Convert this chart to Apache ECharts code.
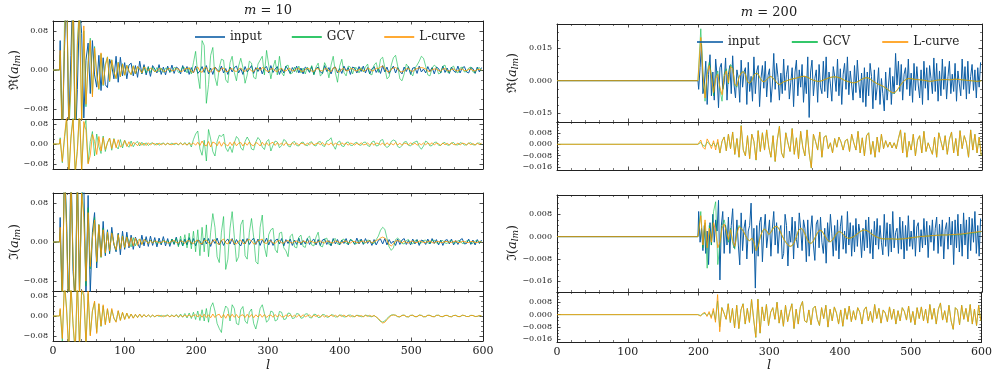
<!DOCTYPE html>
<html><head><meta charset="utf-8">
<script src="https://cdn.jsdelivr.net/npm/echarts@6.0.0/dist/echarts.min.js"></script>
<style>html,body{margin:0;padding:0;background:#fff}#c{width:995px;height:373px}</style>
</head><body><div id="c"></div>
<script>
// ---------------- DATA (left column: m = 10, units 1e-3; l = 10..598 step 3) ----------------
const reInL = [
60,-140,40,170,-120,30,190,-160,-40,130,
75,-98,20,55,-48,60,-10,-35,30,-42,
25,-30,-36,22,8,-18,28,-25,26,-12,
15,-18,10,14,-12,9,-15,18,-8,11,
-10,7,-13,9,2,-6,11,-9,6,-10,
8,-5,10,-7,6,3,-8,9,-4,7,
-9,5,-6,8,-7,-2,7,-5,9,-8,
4,-9,6,1,-4,8,-6,3,-9,6,
-4,5,8,-6,3,-9,7,-4,2,9,
-7,5,-3,6,-8,4,7,-6,9,-5,
2,7,-9,3,-6,8,1,-7,5,-3,
8,-6,4,-8,6,2,-5,7,-9,3,
6,-4,-7,9,-3,5,-8,4,6,-6,
3,-7,8,-2,5,-9,6,4,-6,7,
-3,8,-6,5,-8,2,7,-5,3,-7,
9,-4,6,-7,1,8,-6,5,-3,-8,
6,-3,7,-9,4,5,-7,8,-4,2,
-6,7,-3,5,-8,6,3,-6,8,-5,
4,-7,6,-2,-5,8,-6,4,7,-4,
-6,5,3,-7,6,-4,5];
const reGcvL = [
30,-160,90,190,-130,-40,150,-170,60,130,
-100,80,-75,20,65,-50,48,-10,-40,33,
-32,12,27,-24,21,-5,-18,16,-14,13,
-11,10,-3,-10,9,-8,7,2,-7,7,
-6,6,-5,6,-4,5,-4,4,-5,4,
3,-4,-2,5,3,-5,-3,6,4,-6,
5,-8,15,38,-10,-38,60,50,-68,-30,
30,46,-15,-32,5,22,20,-20,-26,15,
28,-5,-22,8,24,5,-27,-10,18,14,
-15,-18,12,20,28,-10,40,10,-18,5,
20,-10,28,-5,-12,8,10,-8,-6,6,
-5,8,-6,4,-8,6,-4,9,-10,6,
14,-12,-8,15,5,-16,10,28,-5,-25,
8,22,-5,-12,8,6,-8,5,4,-6,
5,-4,6,12,-8,-10,10,15,-5,22,
26,5,-18,-14,10,25,30,8,-18,-22,
-8,12,6,-6,-12,4,10,18,28,24,
8,-10,-12,4,10,6,-8,-6,8,10,
-4,-6,5,8,-3,-6,4,6,-4,-3,
4,6,-4,-5,3,5,-2];
const reLcL = [
40,-150,60,180,-110,-30,160,-130,50,120,
-110,90,-70,10,60,-55,45,-8,-38,35,
-30,8,26,-22,20,-3,-17,15,-13,12,
-10,9,-2,-9,8,-7,7,1,-6,6,
3,-2,4,1,-3,-2,3,2,-2,-3,
2,3,-2,-1,3,2,-3,-2,2,3,
4,-3,-5,3,6,-2,-5,4,5,-3,
-4,3,5,-2,-4,3,4,-3,-3,2,
3,-2,-3,2,4,-1,-3,2,3,-2,
-3,2,4,-1,5,3,-2,-3,2,3,
-2,-3,2,3,-1,-2,2,3,-2,-1,
2,3,-2,-3,1,3,2,-2,-3,2,
3,-1,-2,2,3,-2,-3,4,5,-3,
-4,2,3,-2,-1,2,3,-1,-2,1,
2,-2,-1,3,2,-2,-1,4,3,6,
8,4,-3,-4,2,4,5,2,-3,-4,
-2,2,3,-1,-3,1,3,4,5,4,
2,-2,-3,1,2,2,-1,-2,2,3,
-1,-2,1,2,-1,-2,1,2,-1,-1,
1,2,-1,-2,1,1,0];
const reSubGcvL = [
25,-75,20,100,-140,30,110,-115,-20,130,
-105,60,95,-75,10,50,-48,40,-10,-38,
32,-30,6,24,-25,22,-8,-20,18,-16,
15,-3,-13,12,-11,4,10,-8,7,-6,
5,-6,2,5,-5,4,-5,1,4,-3,
3,-2,4,-3,2,-4,5,-3,6,-5,
6,-12,18,40,52,-20,-45,15,-68,58,
20,-30,-48,10,35,30,40,-15,-30,-10,
-34,5,30,20,-15,-25,10,28,12,-20,
-24,8,26,15,-12,-22,10,18,-28,-5,
12,8,-15,-6,18,12,-8,-12,6,10,
-6,-8,5,8,-4,-7,6,9,-5,-8,
8,10,-6,-10,12,15,25,-5,-21,6,
12,-8,-10,6,8,-5,-6,4,7,-4,
-5,6,8,-6,-10,8,12,-8,-6,14,
18,-6,-14,-8,10,16,12,-10,-15,-6,
8,10,-5,-8,4,8,12,-10,-21,-8,
12,6,-8,-6,6,8,-5,-6,4,6,
-4,-5,4,6,-3,-4,5,3,-4,-3,
3,5,-3,-4,3,4,-2];
const reSubLcL = [
20,-70,30,110,-130,20,100,-120,-30,140,
-110,90,55,-80,-45,38,10,-42,30,-28,
26,-22,4,24,-18,20,-15,17,-12,-5,
14,-10,9,-9,6,2,-7,6,-5,4,
-6,5,-4,3,1,-4,4,-3,2,-3,
3,-2,-3,2,3,-2,4,-3,2,-4,
3,-2,4,-5,7,-6,12,-3,-8,10,
-12,8,4,-7,10,-9,6,-2,-8,7,
-6,9,-7,3,6,-8,5,-5,8,-4,
-7,6,2,-8,7,-5,5,-6,3,7,
-6,5,-3,4,-6,6,-2,-4,5,-3,
4,-5,3,2,-5,4,-3,5,-4,1,
4,-3,6,-5,2,-4,5,-6,4,-2,
-4,5,-2,3,-5,4,1,-4,3,-3,
5,-3,-2,4,-4,3,-5,4,2,-3,
4,-6,5,-3,2,-4,6,-4,3,-5,
3,2,-4,5,-3,4,-5,2,-3,4,
-3,4,-2,5,-4,3,1,-5,4,-3,
3,-4,5,-2,-3,4,-4,3,2,-4,
4,-3,2,-4,3,-2,3];
const imInL = [
50,-130,160,40,-150,170,-60,-120,140,-100,
90,120,-110,95,-105,20,60,-53,35,-30,
42,-28,25,-24,30,-5,-20,18,-26,22,
-15,20,-12,14,-15,10,-2,-12,14,-8,
11,-9,12,-7,9,-10,8,-6,11,-8,
7,-9,6,-5,10,-7,5,-8,6,-6,
9,-5,7,-8,4,2,-6,8,-4,7,
-9,5,-3,8,-6,4,-7,2,6,-4,
7,-6,5,-3,-8,6,-4,7,-5,3,
8,-5,6,-7,4,-2,8,-6,5,-7,
3,6,-4,7,-8,5,-3,6,-7,4,
-5,8,-6,3,-4,7,-5,2,6,-6,
5,-7,4,6,-5,3,-8,7,-4,5,
-6,4,-3,7,-6,5,2,-5,8,-4,
6,-5,7,-3,4,-7,5,-6,3,6,
-4,7,-6,5,-3,2,-7,6,-5,4,
7,-5,3,-6,6,-4,5,-7,4,2,
-5,6,-4,7,-3,5,-6,4,-7,3,
5,-4,6,-6,3,-5,4,7,-4,-3,
6,-5,4,-6,5,-3,4];
const imGcvL = [
20,-140,170,30,-160,150,-40,-140,160,-120,
110,60,-90,70,-55,10,50,-42,36,-32,
28,-24,22,-20,19,-4,-17,16,-14,13,
-12,11,2,-10,9,-8,3,6,-5,5,
3,-3,4,-2,3,-4,2,-3,4,-2,
3,-5,6,-4,8,-10,12,-8,15,-12,
18,-14,22,-20,25,-28,30,-20,35,-30,
20,58,30,-30,-42,20,52,-56,-35,28,
62,10,-40,-30,35,45,-28,-35,20,48,
10,-40,-45,30,55,-10,-30,15,25,28,
-15,-22,18,20,-12,-18,-30,12,16,-10,
-12,10,14,-9,-11,8,12,-6,-8,10,
20,-8,-10,6,8,-5,-6,5,7,-4,
-5,4,6,-3,-4,5,3,-4,-3,4,
3,-3,-2,4,3,-2,-3,5,12,24,
30,26,8,-10,-17,-12,5,8,4,-3,
-4,3,5,-2,-4,3,4,-3,-2,3,
4,-2,-3,3,4,-2,-3,2,3,-2,
-3,2,3,-2,-2,3,2,-3,-2,2,
3,-2,-3,2,3,-2,1];
const imLcL = [
30,-120,150,20,-170,130,-30,-160,140,-110,
100,50,-80,60,-50,8,45,-40,35,-30,
25,-22,20,-18,18,-4,-16,15,-14,12,
-11,10,-9,9,-8,8,-7,6,-5,5,
2,-3,3,-2,2,1,-2,-1,2,1,
-2,-1,2,3,-1,-2,2,1,-3,2,
3,-2,-3,2,4,-3,-4,3,4,-2,
-4,2,5,-3,-5,3,6,-2,-4,4,
5,-3,-4,2,4,-3,-3,4,5,2,
-4,-3,3,4,6,-2,-3,3,2,-2,
-3,2,3,-2,-2,2,3,-1,-2,1,
2,-1,-2,2,1,-2,2,1,-1,-2,
1,2,-1,-2,2,1,-1,-2,2,1,
-1,-2,1,2,-1,-2,1,1,-1,-2,
1,2,-1,1,2,-2,1,3,5,8,
10,8,3,-5,-8,-4,2,3,1,-2,
2,-1,-2,1,2,-1,-1,2,1,-1,
-1,1,2,-1,-2,1,1,-1,-1,1,
1,-1,-1,1,2,-1,-1,1,1,-1,
-1,1,1,-1,-1,1,0];
const imSubGcvL = [
25,-100,140,30,-140,130,-40,-150,140,-120,
100,80,-110,90,-75,20,55,-65,48,-42,
40,-33,28,-26,25,-8,-22,20,-17,14,
-13,11,-9,8,-8,6,-6,7,-5,5,
-4,4,-4,3,-3,3,-2,3,-3,2,
4,-3,5,-4,6,-6,8,-5,10,-8,
12,-10,15,-14,20,-18,25,-20,30,-25,
35,53,20,-30,-50,-66,10,40,30,-20,
45,30,-30,-35,25,38,-20,-30,15,28,
-30,-52,-15,30,45,10,-25,-15,20,15,
-20,-15,18,15,-14,-12,12,10,-10,-8,
10,8,-9,-7,8,9,-6,-8,7,6,
-6,-5,6,5,-5,-4,5,4,-4,-3,
4,3,-4,-3,3,4,-3,-2,3,2,
-3,-2,3,2,-2,-3,2,-4,-12,-22,
-24,-20,-10,-2,4,5,3,-3,-4,3,
4,-3,-4,3,3,-3,-3,4,3,-3,
-3,3,3,-2,-3,3,3,-2,-3,2,
3,-2,-3,2,3,-2,-3,3,2,-2,
-2,3,2,-2,-2,2,0];
const imSubLcL = [
30,-90,130,20,-150,120,-30,-140,150,-130,
110,90,-120,100,-80,20,60,-70,50,-40,
45,-35,30,-28,30,-10,-25,22,-18,15,
-14,12,-10,8,-9,7,-6,8,-5,6,
-4,5,-3,4,-3,2,3,-3,2,-2,
3,-3,2,-2,3,-2,2,-3,3,-2,
4,-3,2,5,-4,6,-5,7,-6,5,
-7,8,-6,4,7,-8,6,-9,8,-6,
7,-5,6,-7,2,5,-6,7,-5,6,
-7,5,-4,7,-5,6,-6,2,4,-5,
6,-4,5,-3,-4,5,-2,4,-3,3,
-4,4,-3,5,-3,1,4,-4,3,-2,
4,-3,3,-4,2,-3,4,-2,3,-3,
3,-2,4,-3,2,-3,2,-3,3,-2,
2,-3,3,-2,3,-2,2,-4,-10,-20,
-28,-25,-15,-5,2,4,3,-2,-3,2,
3,-2,-3,2,3,-2,-2,3,2,-3,
-2,3,2,-2,-3,2,3,-2,-2,2,
2,-2,-3,2,2,-2,-2,3,2,-2,
-2,2,2,-2,-1,2,0];

// ---------------- DATA (right column: m = 200, units 1e-4) ----------------
// input: l = 200..598 step 2 ; reconstructions: l = 200..599 step 3
const reInR = [
-40,60,170,-60,-20,90,-110,30,120,-70,
40,-90,100,20,-125,60,80,-40,-10,105,
-90,30,70,-60,115,-20,-80,50,10,-100,
95,-30,40,60,-110,85,-50,20,-95,110,
-60,45,70,-120,10,70,-35,90,-75,25,
55,-100,-20,126,-40,80,15,-90,35,-60,
100,-45,30,70,-85,-10,60,-120,40,95,
-70,50,-30,75,-100,20,-60,110,-170,40,
95,-70,10,50,-100,75,-30,-60,90,-50,
110,-80,40,-15,-95,65,20,-50,100,-70,
55,-110,30,80,-40,110,-65,45,-20,-90,
70,-55,95,-10,-80,35,-100,60,-120,40,
-70,80,20,-130,50,-90,-30,60,-110,10,
-60,-140,40,-90,-20,60,-110,20,-60,126,
-20,90,-50,75,-90,30,60,-40,100,-70,
35,-100,80,-45,65,-20,-80,50,-110,90,
-35,60,-90,70,10,-60,105,-50,80,-95,
45,-70,100,-40,65,-85,20,90,-60,30,
-50,80,-95,45,-15,-70,100,-40,65,-85,
90,-60,20,75,-45,50,-80,60,-30,85];
const reGcvR = [
0,240,45,-95,40,85,30,-70,20,45,
-40,-95,30,55,-15,75,60,-20,-30,18,
36,43,30,-6,-12,1,25,36,30,10,
-3,-5,6,15,20,12,0,-12,-19,-12,
-5,-2,2,5,8,10,12,15,18,20,
20,17,12,6,2,-1,-3,-3,0,4,
8,12,15,17,18,17,14,10,5,0,
-3,-6,-9,-10,-8,-4,2,8,12,14,
12,6,-2,-8,-14,-18,-23,-28,-35,-42,
-50,-57,-58,-50,-36,-20,-8,2,8,10,
9,7,6,5,4,3,2,0,-2,-3,
-2,0,2,3,4,5,5,5,4,5,
6,7,6,5,4,3,2,1,0,-1,
-2,-3,-2,-1];
const reLcR = [
0,200,30,-80,30,70,20,-55,10,30,
-30,-65,20,45,-10,65,55,-15,-25,15,
35,42,30,-5,-12,0,25,35,30,10,
-3,-5,5,15,20,12,0,-12,-18,-12,
-5,-2,2,5,8,10,12,15,18,20,
20,17,12,6,2,-1,-3,-3,0,4,
8,12,15,17,18,17,14,10,5,0,
-3,-6,-9,-10,-8,-4,2,8,12,14,
12,6,-2,-8,-14,-18,-22,-27,-33,-40,
-48,-55,-56,-48,-35,-20,-8,2,8,10,
9,7,6,5,4,3,2,0,-2,-3,
-2,0,2,3,4,5,5,5,4,5,
6,7,6,5,4,3,2,1,0,-1,
-2,-3,-2,-1];
const reSubGcvR = [
2,12,-8,-14,16,4,-12,10,-16,14,
-62,22,52,-46,72,-31,87,-72,41,-92,
133,-41,-82,61,-102,72,21,-112,97,-51,
82,-41,102,-21,-92,61,-122,31,128,-61,
-97,82,11,-51,112,-71,46,-102,92,-21,
-82,102,-61,-168,71,21,-41,87,-92,51,
61,-31,11,-61,41,-21,51,16,-41,26,
36,-51,71,11,-41,92,-61,46,-82,61,
82,-71,21,-92,51,-56,71,-31,26,-21,
16,-26,11,-31,41,102,-61,82,-92,21,
-41,71,-82,31,61,-61,92,-51,11,-31,
-71,51,-92,82,21,-41,61,-71,36,87,
-61,41,-82,97,-31,61,11,-92,102,-41,
71,-61,51,-82];
const reSubLcR = [
5,30,-20,-35,38,10,-30,25,-40,35,
-60,20,50,-45,70,-30,85,-70,40,-90,
130,-40,-80,60,-100,70,20,-110,95,-50,
80,-40,100,-20,-90,60,-120,30,125,-60,
-95,80,10,-50,110,-70,45,-100,90,-20,
-80,100,-60,-165,70,20,-40,85,-90,50,
60,-30,10,-60,40,-20,50,15,-40,25,
35,-50,70,10,-40,90,-60,45,-80,60,
80,-70,20,-90,50,-55,70,-30,25,-20,
15,-25,10,-30,40,100,-60,80,-90,20,
-40,70,-80,30,60,-60,90,-50,10,-30,
-70,50,-90,80,20,-40,60,-70,35,85,
-60,40,-80,95,-30,60,10,-90,100,-40,
70,-60,50,-80];
const imInR = [
90,-20,30,-50,40,-60,20,-100,50,-30,
80,-20,60,20,130,-155,40,90,-60,40,
-30,70,-60,40,100,-40,-20,60,-30,-101,
85,-50,30,60,-80,20,40,120,-60,30,
-184,40,-70,50,70,-90,20,80,-40,10,
60,-70,30,90,-30,50,-60,20,40,-80,
-60,80,40,-105,20,-20,70,-80,55,-10,
-40,85,30,-50,60,30,-90,60,-70,20,
75,-30,-85,45,60,-40,70,-20,-60,30,
-95,50,-20,80,10,-70,40,-50,60,-80,
35,75,-45,20,-60,90,-30,50,-70,40,
-55,65,-35,45,10,-75,30,-50,60,-40,
70,-60,25,-80,55,-30,65,-45,40,-20,
-65,80,-35,50,-70,45,-55,90,-40,15,
30,-60,70,-45,55,-80,40,-50,75,-35,
20,-45,60,-70,35,50,-55,25,-40,65,
-30,55,-75,40,-20,60,-50,30,70,-60,
45,-35,60,-80,25,50,-45,70,-30,55,
-100,60,-40,80,-55,45,-70,85,-30,60,
-80,70,-50,65,-20,90,-60,40,-70,65];
const imGcvR = [
0,90,-40,50,-113,40,-30,90,125,-100,
-30,40,60,25,-20,30,-25,-45,15,40,
30,20,5,-10,-15,-5,-20,-50,-35,0,
20,28,20,8,15,30,36,36,25,8,
-8,-20,-30,-35,-32,-20,0,22,30,25,
10,-8,-22,-24,-15,0,15,24,20,8,
-5,-15,-18,-12,0,12,18,16,8,0,
-5,-6,-3,0,6,12,18,22,24,22,
18,12,6,2,-2,-5,-7,-8,-8,-8,
-8,-8,-8,-9,-9,-8,-8,-7,-6,-5,
-4,-3,-2,-1,0,1,1,2,2,3,
4,4,5,5,6,6,6,6,7,7,
6,6,7,7,8,9,10,11,12,13,
14,15,16,17];
const imLcR = [
0,75,-30,60,-40,30,-20,50,20,-40,
-20,30,45,20,-10,25,-15,-35,10,35,
30,20,5,-10,-15,-5,-20,-50,-35,0,
20,28,20,8,15,30,36,36,25,8,
-8,-20,-30,-35,-32,-20,0,22,30,25,
10,-8,-22,-24,-15,0,15,24,20,8,
-5,-15,-18,-12,0,12,18,16,8,0,
-5,-6,-3,0,6,12,18,22,24,22,
18,12,6,2,-2,-5,-7,-8,-8,-8,
-8,-8,-8,-9,-9,-8,-8,-7,-6,-5,
-4,-3,-2,-1,0,1,1,2,2,3,
4,4,5,5,6,6,6,6,7,7,
8,8,9,9,10,11,12,13,14,15,
16,17,18,19];
const imSubGcvR = [
2,-5,4,8,-6,10,-15,25,-35,90,
-80,47,11,-31,72,-52,41,-87,62,-92,
31,72,-62,41,-51,100,-31,-150,102,-122,
51,-41,67,-72,16,46,-31,82,-56,31,
-77,62,-46,21,72,-92,36,-62,51,87,
-41,-51,31,-67,41,56,-31,-72,46,-26,
62,-82,36,-41,51,11,-62,31,-77,41,
-31,56,-46,26,-36,46,16,-62,31,51,
-41,21,-51,67,-26,41,-56,31,11,-46,
51,-31,36,-62,26,-41,46,21,-36,56,
-51,21,-67,46,-26,51,-41,36,-56,67,
-31,41,-62,36,77,-36,26,-51,62,-41,
-97,46,31,-67,62,-31,41,-46,67,-62,
36,-72,62,-41];
const imSubLcR = [
5,-10,8,15,-12,20,-25,40,-50,131,
-112,45,10,-30,70,-50,40,-85,60,-90,
30,70,-60,40,-50,98,-30,-147,100,-120,
50,-40,65,-70,15,45,-30,80,-55,30,
-75,60,-45,20,70,-90,35,-60,50,85,
-40,-50,30,-65,40,55,-30,-70,45,-25,
60,-80,35,-40,50,10,-60,30,-75,40,
-30,55,-45,25,-35,45,15,-60,30,50,
-40,20,-50,65,-25,40,-55,30,10,-45,
50,-30,35,-60,25,-40,45,20,-35,55,
-50,20,-65,45,-25,50,-40,35,-55,65,
-30,40,-60,35,75,-35,25,-50,60,-40,
-95,45,30,-65,60,-30,40,-45,65,-60,
35,-70,60,-40];

// ---------------- sample positions / ticks ----------------
const M_LEFT = 10, M_RIGHT = 200;
const lLeft = []; for (let l = 10; l <= 598; l += 3) lLeft.push(l);
const lRight = []; for (let l = 200; l <= 599; l += 3) lRight.push(l);
const lRightIn = []; for (let l = 200; l <= 598; l += 2) lRightIn.push(l);
const UNIT_LEFT = 1e-3, UNIT_RIGHT = 1e-4;
const legendNames = ['input', 'GCV', 'L-curve'];
const ticksLeft = [-0.08, 0, 0.08];
const ticksRightTop = [-0.015, 0, 0.015];
const ticksRightSmall = [-0.016, -0.008, 0, 0.008];

function toData(ls, vals, unit, m, name) {
  if (vals.length !== ls.length) throw new Error(name + ': ' + vals.length + ' vs ' + ls.length);
  const d = [[0, 0], [m - 1, 0]];
  for (let i = 0; i < ls.length; i++) d.push([ls[i], vals[i] * unit]);
  return d;
}

const INK = '#222';
const FONT = 'DejaVu Serif';
const styles = {
  'input':   {color: '#0C5DA5', width: 1.0, opacity: 1},
  'GCV':     {color: '#00B945', width: 0.9, opacity: 0.65},
  'L-curve': {color: '#FF9500', width: 0.9, opacity: 0.9}
};

const panels = [
  {grid: {left: 53, top: 21, width: 430, height: 98}, min: -0.1, max: 0.1, major: ticksLeft, minor: 0.02, dec: 2, xLab: false, col: 'L',
   s: [['input', reInL, lLeft], ['GCV', reGcvL, lLeft], ['L-curve', reLcL, lLeft]]},
  {grid: {left: 53, top: 119, width: 430, height: 50}, min: -0.1, max: 0.1, major: ticksLeft, minor: 0.02, dec: 2, xLab: false, col: 'L',
   s: [['GCV', reSubGcvL, lLeft], ['L-curve', reSubLcL, lLeft]]},
  {grid: {left: 53, top: 193, width: 430, height: 98}, min: -0.1, max: 0.1, major: ticksLeft, minor: 0.02, dec: 2, xLab: false, col: 'L',
   s: [['input', imInL, lLeft], ['GCV', imGcvL, lLeft], ['L-curve', imLcL, lLeft]]},
  {grid: {left: 53, top: 291, width: 430, height: 50}, min: -0.1, max: 0.1, major: ticksLeft, minor: 0.02, dec: 2, xLab: true, col: 'L',
   s: [['GCV', imSubGcvL, lLeft], ['L-curve', imSubLcL, lLeft]]},
  {grid: {left: 557, top: 24, width: 425, height: 98}, min: -0.0191, max: 0.0262, major: ticksRightTop, minor: 0.00375, dec: 3, xLab: false, col: 'R',
   s: [['input', reInR, lRightIn], ['GCV', reGcvR, lRight], ['L-curve', reLcR, lRight]]},
  {grid: {left: 557, top: 122, width: 425, height: 48}, min: -0.0181, max: 0.0157, major: ticksRightSmall, minor: 0.002, dec: 3, xLab: false, col: 'R',
   s: [['GCV', reSubGcvR, lRight], ['L-curve', reSubLcR, lRight]]},
  {grid: {left: 557, top: 195, width: 425, height: 97}, min: -0.0198, max: 0.0149, major: ticksRightSmall, minor: 0.002, dec: 3, xLab: false, col: 'R',
   s: [['input', imInR, lRightIn], ['GCV', imGcvR, lRight], ['L-curve', imLcR, lRight]]},
  {grid: {left: 557, top: 292, width: 425, height: 50}, min: -0.0179, max: 0.0148, major: ticksRightSmall, minor: 0.002, dec: 3, xLab: true, col: 'R',
   s: [['GCV', imSubGcvR, lRight], ['L-curve', imSubLcR, lRight]]}
];

function fmt(v, dec) {
  const s = Math.abs(v).toFixed(dec);
  return (v < -1e-12 ? '\u2212' : '') + s;
}
function minorList(p) {
  const out = [];
  const k0 = Math.ceil(p.min / p.minor - 1e-9), k1 = Math.floor(p.max / p.minor + 1e-9);
  for (let k = k0; k <= k1; k++) {
    const v = +(k * p.minor).toFixed(8);
    if (!p.major.some(m => Math.abs(m - v) < 1e-9)) out.push(v);
  }
  return out;
}

const grids = [], xAxes = [], yAxes = [], series = [];
panels.forEach((p, gi) => {
  grids.push(Object.assign({containLabel: false}, p.grid));
  const xi = xAxes.length;
  ['bottom', 'top'].forEach((pos, k) => {
    xAxes.push({
      type: 'value', gridIndex: gi, position: pos, min: 0, max: 600, interval: 100,
      axisLine: {show: true, onZero: false, lineStyle: {color: INK, width: 1}},
      axisTick: {show: true, inside: true, length: 3.5, lineStyle: {color: INK, width: 0.8}},
      minorTick: {show: true, splitNumber: 5, length: 2, lineStyle: {color: INK, width: 0.6}},
      axisLabel: {show: p.xLab && k === 0, margin: 5, fontSize: 11, fontFamily: FONT, color: INK},
      splitLine: {show: false}, minorSplitLine: {show: false}
    });
  });
  const yi = yAxes.length;
  const minors = minorList(p);
  ['left', 'right'].forEach((pos, k) => {
    yAxes.push({
      type: 'value', gridIndex: gi, position: pos, min: p.min, max: p.max,
      axisLine: {show: true, onZero: false, lineStyle: {color: INK, width: 1}},
      axisTick: {show: true, inside: true, length: 3.5, customValues: p.major, lineStyle: {color: INK, width: 0.8}},
      axisLabel: {show: k === 0, customValues: p.major, formatter: v => fmt(v, p.dec), margin: 5,
                  fontSize: 8, fontFamily: FONT, color: INK},
      splitLine: {show: false}
    });
  });
  ['left', 'right'].forEach(pos => {
    yAxes.push({
      type: 'value', gridIndex: gi, position: pos, min: p.min, max: p.max,
      axisLine: {show: false, onZero: false},
      axisTick: {show: true, inside: true, length: 2, customValues: minors, lineStyle: {color: INK, width: 0.6}},
      axisLabel: {show: false}, splitLine: {show: false}
    });
  });
  const unit = p.col === 'L' ? UNIT_LEFT : UNIT_RIGHT;
  const m = p.col === 'L' ? M_LEFT : M_RIGHT;
  p.s.forEach(([name, vals, ls]) => {
    const st = styles[name];
    series.push({
      type: 'line', name, xAxisIndex: xi, yAxisIndex: yi,
      data: toData(ls, vals, unit, m, name + gi),
      symbol: 'none', showSymbol: false, clip: true, silent: true,
      color: st.color,
      lineStyle: {color: st.color, width: st.width, opacity: st.opacity},
      emphasis: {disabled: true}
    });
  });
});

const legendBase = {
  data: legendNames, icon: 'rect', itemHeight: 1.6, padding: 0, selectedMode: false,
  textStyle: {fontFamily: FONT, fontSize: 12, color: INK}
};

function yLabel(sym, x, y) {
  return {
    type: 'text', x, y, rotation: Math.PI / 2, silent: true,
    style: {
      text: '{r|' + sym + '}{p|(}{a|a}{s|lm}{p|)}',
      align: 'center', verticalAlign: 'middle', fill: INK,
      rich: {
        r: {fontSize: 13, fontFamily: 'DejaVu Serif', fill: INK},
        p: {fontSize: 13, fontFamily: FONT, fill: INK},
        a: {fontSize: 13, fontFamily: FONT, fontStyle: 'italic', fill: INK},
        s: {fontSize: 9, fontFamily: FONT, fontStyle: 'italic', fill: INK, padding: [6, 0, 0, 0]}
      }
    }
  };
}
function title(txt, x, y) {
  return {
    type: 'text', x, y, silent: true,
    style: {
      text: '{i|m}{n| = ' + txt + '}', align: 'center', verticalAlign: 'middle', fill: INK,
      rich: {
        i: {fontSize: 13, fontFamily: FONT, fontStyle: 'italic', fill: INK},
        n: {fontSize: 13, fontFamily: FONT, fill: INK}
      }
    }
  };
}
function xName(x, y) {
  return {type: 'text', x, y, silent: true,
    style: {text: 'l', fontSize: 13, fontFamily: FONT, fontStyle: 'italic', fill: INK, align: 'center', verticalAlign: 'middle'}};
}

const chart = echarts.init(document.getElementById('c'), null, {renderer: 'canvas'});
chart.setOption({
  animation: false,
  backgroundColor: '#fff',
  grid: grids, xAxis: xAxes, yAxis: yAxes, series,
  legend: [
    Object.assign({}, legendBase, {left: 195, top: 31, itemWidth: 30, itemGap: 30}),
    Object.assign({}, legendBase, {left: 697, top: 36, itemWidth: 26, itemGap: 32})
  ],
  graphic: [
    title('10', 268, 11), title('200', 769, 13),
    yLabel('\u211C', 15, 70), yLabel('\u2111', 15, 242),
    yLabel('\u211C', 513, 73), yLabel('\u2111', 513, 243),
    xName(268, 366), xName(769, 366)
  ]
});
</script></body></html>
